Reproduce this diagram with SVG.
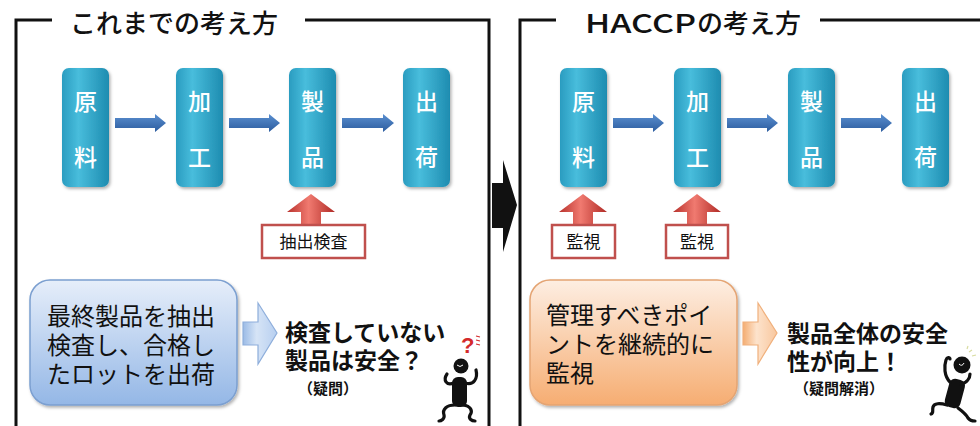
<svg xmlns="http://www.w3.org/2000/svg" width="980" height="426" viewBox="0 0 980 426">
  <defs>
    <linearGradient id="gStep" x1="0" y1="0" x2="1" y2="0">
      <stop offset="0" stop-color="#2a9cc0"/>
      <stop offset="0.35" stop-color="#48bddc"/>
      <stop offset="1" stop-color="#1e8cb0"/>
    </linearGradient>
    <linearGradient id="gFlow" x1="0" y1="0" x2="0" y2="1">
      <stop offset="0" stop-color="#5a8fd0"/>
      <stop offset="1" stop-color="#2c5c9e"/>
    </linearGradient>
    <linearGradient id="gRed" x1="0" y1="0" x2="1" y2="0">
      <stop offset="0" stop-color="#b8312c"/>
      <stop offset="0.45" stop-color="#f07a70"/>
      <stop offset="1" stop-color="#b02a25"/>
    </linearGradient>
    <linearGradient id="gBlueBox" x1="0" y1="0" x2="0" y2="1">
      <stop offset="0" stop-color="#e6eefa"/>
      <stop offset="1" stop-color="#94b7e6"/>
    </linearGradient>
    <linearGradient id="gOrangeBox" x1="0" y1="0" x2="0" y2="1">
      <stop offset="0" stop-color="#fdeee2"/>
      <stop offset="1" stop-color="#f6ad72"/>
    </linearGradient>
    <linearGradient id="gBlueArrow" x1="0" y1="0" x2="1" y2="0">
      <stop offset="0" stop-color="#9bbbe6"/>
      <stop offset="0.4" stop-color="#d6e4f6"/>
      <stop offset="1" stop-color="#b7cff0"/>
    </linearGradient>
    <linearGradient id="gOrangeArrow" x1="0" y1="0" x2="1" y2="0">
      <stop offset="0" stop-color="#f4ad72"/>
      <stop offset="0.4" stop-color="#fde3cc"/>
      <stop offset="1" stop-color="#f8c79e"/>
    </linearGradient>
    <filter id="haze" x="-20%" y="-100%" width="140%" height="300%">
      <feGaussianBlur stdDeviation="1.6"/>
    </filter>
    <filter id="drop" x="-10%" y="-10%" width="130%" height="130%">
      <feDropShadow dx="1.5" dy="2" stdDeviation="1.5" flood-color="#000" flood-opacity="0.3"/>
    </filter>
  </defs>
  <style>
    .frame { fill: none; stroke: #111; stroke-width: 3; }
    .title { font-family: "Noto Sans CJK JP", "Liberation Sans", sans-serif; font-size: 26px; font-weight: 500; fill: #111; }
    .glow { fill: none; stroke: #9a9a9a; stroke-width: 3; stroke-dasharray: 14 6; opacity: 0.45; filter: url(#haze); }
    .step { fill: url(#gStep); filter: url(#drop); }
    .stepText { font-family: "Noto Sans CJK JP", sans-serif; font-size: 23px; font-weight: 500; fill: #fff; text-anchor: middle; }
    .flow { fill: url(#gFlow); }
    .check { fill: url(#gRed); }
    .label { fill: #fff; stroke: #c0504d; stroke-width: 2.5; }
    .labelText { font-family: "Noto Sans CJK JP", sans-serif; font-size: 17px; fill: #111; text-anchor: middle; }
    .body { font-family: "Noto Sans CJK JP", sans-serif; font-size: 24px; fill: #111; }
    .result { font-family: "Noto Sans CJK JP", sans-serif; font-size: 23px; font-weight: 700; fill: #111; }
    .note { font-family: "Noto Sans CJK JP", sans-serif; font-size: 15px; font-weight: 700; fill: #111; }
    .ink { fill: #111; }
    .limb { fill: none; stroke: #111; stroke-width: 3.2; stroke-linecap: round; stroke-linejoin: round; }
  </style>

  <!-- panel frames with titles -->
  <g id="frame-left">
    <polyline class="frame" points="52,20 16,20 16,426"/>
    <polyline class="frame" points="305,20 489,20 489,426"/>
    <path class="glow" d="M72,36 L276,36"/>
    <text class="title" x="70" y="33">これまでの考え方</text>
  </g>
  <g id="frame-right">
    <polyline class="frame" points="556,20 520,20 520,426"/>
    <line class="frame" x1="820" y1="20" x2="980" y2="20"/>
    <path class="glow" d="M587,36 L793,36"/>
    <text class="title" x="585" y="33" textLength="111" lengthAdjust="spacingAndGlyphs">HACCP</text>
    <text class="title" x="697" y="33">の考え方</text>
  </g>

  <!-- transition arrow between panels -->
  <g id="transition">
    <polygon class="ink" points="492,183 503,183 503,160 517,205 503,252 503,228 492,228"/>
  </g>

  <!-- conventional flow -->
  <g id="l-raw"><rect class="step" x="62" y="68" width="47" height="119" rx="7"/><text class="stepText" x="85.5" y="110">原</text><text class="stepText" x="85.5" y="166">料</text></g>
  <g id="l-process"><rect class="step" x="176" y="68" width="47" height="119" rx="7"/><text class="stepText" x="199.5" y="110">加</text><text class="stepText" x="199.5" y="166">工</text></g>
  <g id="l-product"><rect class="step" x="289" y="68" width="47" height="119" rx="7"/><text class="stepText" x="312.5" y="110">製</text><text class="stepText" x="312.5" y="166">品</text></g>
  <g id="l-ship"><rect class="step" x="403" y="68" width="47" height="119" rx="7"/><text class="stepText" x="426.5" y="110">出</text><text class="stepText" x="426.5" y="166">荷</text></g>

  <!-- HACCP flow -->
  <g id="r-raw"><rect class="step" x="560" y="68" width="47" height="119" rx="7"/><text class="stepText" x="583.5" y="110">原</text><text class="stepText" x="583.5" y="166">料</text></g>
  <g id="r-process"><rect class="step" x="674" y="68" width="47" height="119" rx="7"/><text class="stepText" x="697.5" y="110">加</text><text class="stepText" x="697.5" y="166">工</text></g>
  <g id="r-product"><rect class="step" x="788" y="68" width="47" height="119" rx="7"/><text class="stepText" x="811.5" y="110">製</text><text class="stepText" x="811.5" y="166">品</text></g>
  <g id="r-ship"><rect class="step" x="902" y="68" width="47" height="119" rx="7"/><text class="stepText" x="925.5" y="110">出</text><text class="stepText" x="925.5" y="166">荷</text></g>

  <!-- flow connectors -->
  <g id="connectors">
    <polygon class="flow" points="115,118 155,118 155,114 166,123 155,132 155,128 115,128"/>
    <polygon class="flow" points="229,118 269,118 269,114 280,123 269,132 269,128 229,128"/>
    <polygon class="flow" points="342,118 383,118 383,114 394,123 383,132 383,128 342,128"/>
    <polygon class="flow" points="613,118 653,118 653,114 664,123 653,132 653,128 613,128"/>
    <polygon class="flow" points="727,118 767,118 767,114 778,123 767,132 767,128 727,128"/>
    <polygon class="flow" points="841,118 881,118 881,114 892,123 881,132 881,128 841,128"/>
  </g>

  <!-- inspection / monitoring points -->
  <g id="l-inspect">
    <polygon class="check" points="301,226 301,212 287,212 311,194 335,212 321,212 321,226"/>
    <rect class="label" x="262" y="225" width="103" height="33"/>
    <text class="labelText" x="313.5" y="248">抽出検査</text>
  </g>
  <g id="r-monitor-1">
    <polygon class="check" points="573,226 573,212 559,212 583,194 607,212 593,212 593,226"/>
    <rect class="label" x="552" y="225" width="63" height="33"/>
    <text class="labelText" x="583.5" y="248">監視</text>
  </g>
  <g id="r-monitor-2">
    <polygon class="check" points="687,226 687,212 673,212 697,194 721,212 707,212 707,226"/>
    <rect class="label" x="666" y="225" width="62" height="33"/>
    <text class="labelText" x="697" y="248">監視</text>
  </g>

  <!-- conventional approach summary -->
  <g id="l-summary">
    <rect x="30" y="280" width="207" height="125" rx="20" fill="url(#gBlueBox)" stroke="#7b9fd0" stroke-width="1.5" filter="url(#drop)"/>
    <text class="body" x="47" y="325">最終製品を抽出</text>
    <text class="body" x="47" y="354">検査し、合格し</text>
    <text class="body" x="47" y="383">たロットを出荷</text>
  </g>
  <g id="l-arrow">
    <polygon points="243,322 258,322 258,303 277,333 258,364 258,345 243,345" fill="url(#gBlueArrow)" stroke="#8eaedb" stroke-width="1.2"/>
  </g>
  <g id="l-result">
    <text class="result" x="285" y="341">検査していない</text>
    <text class="result" x="285" y="369">製品は安全？</text>
    <text class="note" x="298" y="394">（疑問）</text>
  </g>
  <g id="l-figure">
    <text x="461" y="353" font-family="Liberation Sans, sans-serif" font-size="22" font-weight="700" fill="#d42a2a">?</text>
    <path d="M476,336 l4,1 M476,340 l4,1 M476,344 l4,1" stroke="#d42a2a" stroke-width="1.2"/>
    <circle class="ink" cx="461" cy="366" r="7.5"/>
    <path d="M457,365 q3,3 6,0" stroke="#fff" stroke-width="1" fill="none"/>
    <rect class="ink" x="452" y="377" width="15" height="30" rx="6"/>
    <path class="limb" d="M454,383 C446,386 443,380 447,374"/>
    <path class="limb" d="M465,383 C474,386 478,378 476,370"/>
    <path class="limb" d="M455,405 C447,405 442,409 444,415 C445,419 441,421 439,421"/>
    <path class="limb" d="M463,405 C471,406 473,411 470,415 C468,419 472,421 475,421"/>
  </g>

  <!-- HACCP approach summary -->
  <g id="r-summary">
    <rect x="530" y="280" width="207" height="125" rx="20" fill="url(#gOrangeBox)" stroke="#e4a473" stroke-width="1.5" filter="url(#drop)"/>
    <text class="body" x="546" y="324">管理すべきポイ</text>
    <text class="body" x="546" y="353">ントを継続的に</text>
    <text class="body" x="546" y="382">監視</text>
  </g>
  <g id="r-arrow">
    <polygon points="743,322 758,322 758,303 777,333 758,364 758,345 743,345" fill="url(#gOrangeArrow)" stroke="#f0b07c" stroke-width="1.2"/>
  </g>
  <g id="r-result">
    <text class="result" x="787" y="342">製品全体の安全</text>
    <text class="result" x="787" y="370">性が向上！</text>
    <text class="note" x="794" y="394">（疑問解消）</text>
  </g>
  <g id="r-figure">
    <path d="M969,352 l3,-2 M972,356 l4,-1 M967,349 l1,-3" stroke="#d8dca0" stroke-width="1.2"/>
    <circle class="ink" cx="962" cy="365" r="8.5"/>
    <path d="M959,364 q3,3 5,-1" stroke="#fff" stroke-width="1" fill="none"/>
    <rect class="ink" x="947" y="379" width="16" height="29" rx="6" transform="rotate(15 955 393)"/>
    <path class="limb" d="M950,382 C944,376 944,366 946,360 C947,357 950,357 950,359"/>
    <path class="limb" d="M961,384 C967,383 970,378 970,374"/>
    <path class="limb" d="M947,405 C940,403 934,403 933,407 C932,411 934,413 931,414"/>
    <path class="limb" d="M958,408 C962,411 966,414 968,418 C970,421 973,421 975,421"/>
  </g>
</svg>
